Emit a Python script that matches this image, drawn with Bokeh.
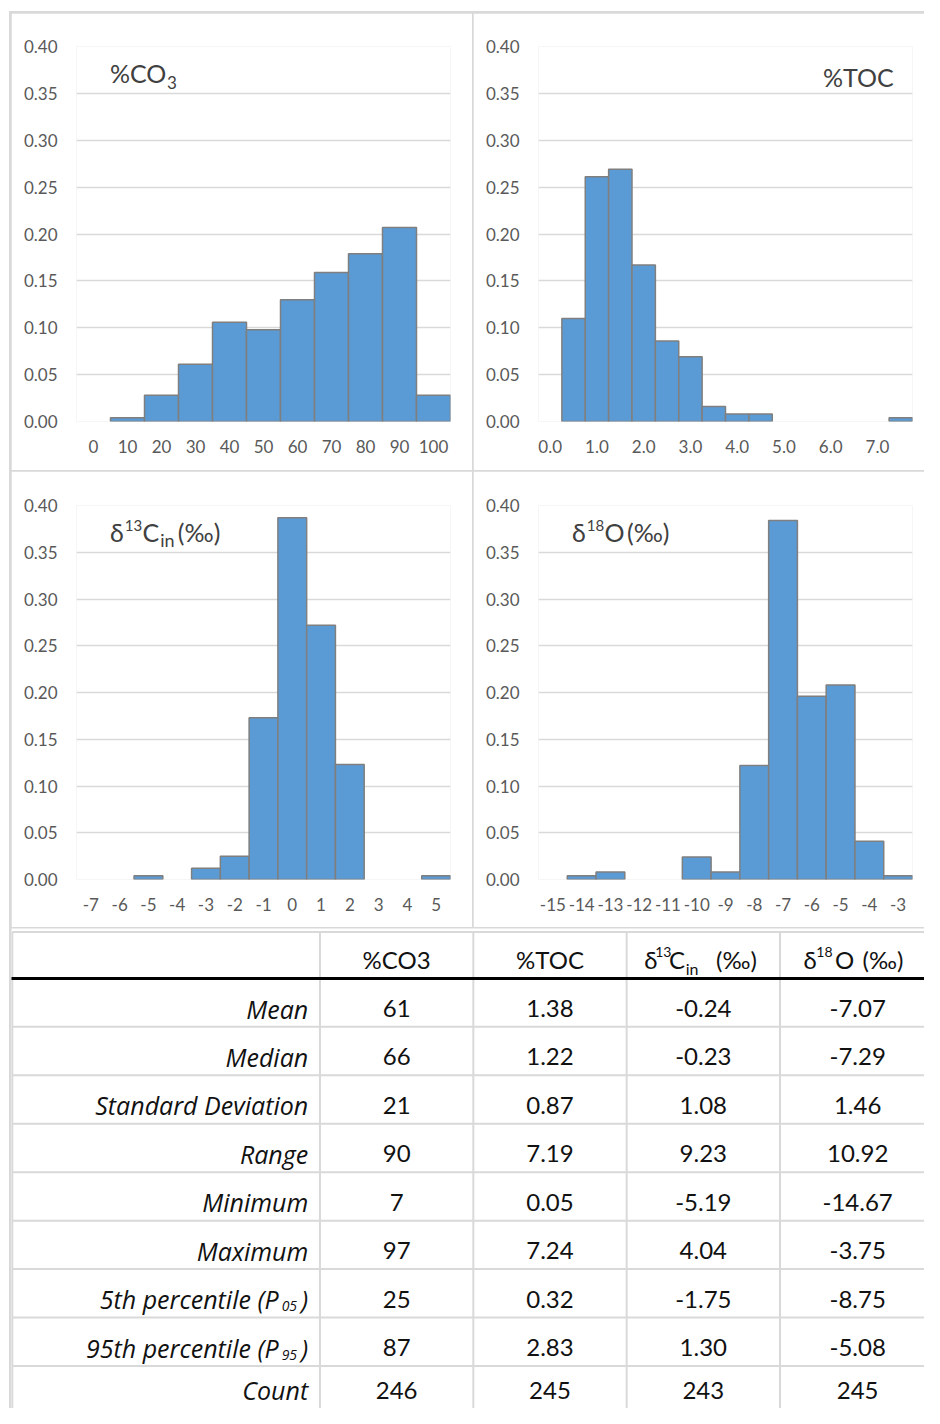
import numpy as np
from bokeh.plotting import figure
from bokeh.models import ColumnDataSource, Range1d, FixedTicker, NumeralTickFormatter
from bokeh.layouts import column, row
from bokeh.embed import file_html
from bokeh.resources import INLINE
from bokeh.core.properties import value

# ---------------- data ----------------
co3_bins = ["0", "10", "20", "30", "40", "50", "60", "70", "80", "90", "100"]
co3_freq = [0.0, 0.004, 0.028, 0.061, 0.106, 0.098, 0.130, 0.159, 0.179, 0.207, 0.028]

toc_bins = ["0.0", "0.5", "1.0", "1.5", "2.0", "2.5", "3.0", "3.5", "4.0", "4.5",
            "5.0", "5.5", "6.0", "6.5", "7.0", "7.5"]
toc_freq = [0.0, 0.110, 0.261, 0.269, 0.167, 0.086, 0.069, 0.016, 0.008, 0.008,
            0.0, 0.0, 0.0, 0.0, 0.0, 0.004]

c13_bins = ["-7", "-6", "-5", "-4", "-3", "-2", "-1", "0", "1", "2", "3", "4", "5"]
c13_freq = [0.0, 0.0, 0.004, 0.0, 0.012, 0.025, 0.173, 0.387, 0.272, 0.123, 0.0, 0.0, 0.004]

o18_bins = ["-15", "-14", "-13", "-12", "-11", "-10", "-9", "-8", "-7", "-6", "-5", "-4", "-3"]
o18_freq = [0.0, 0.004, 0.008, 0.0, 0.0, 0.024, 0.008, 0.122, 0.384, 0.196, 0.208, 0.041, 0.004]

y_ticks = [0.0, 0.05, 0.10, 0.15, 0.20, 0.25, 0.30, 0.35, 0.40]

row_labels = ["Mean", "Median", "Standard Deviation", "Range", "Minimum", "Maximum",
              "5th percentile (P", "95th percentile (P", "Count"]
row_subs = ["", "", "", "", "", "", "05", "95", ""]
co3_stats = ["61", "66", "21", "90", "7", "97", "25", "87", "246"]
toc_stats = ["1.38", "1.22", "0.87", "7.19", "0.05", "7.24", "0.32", "2.83", "245"]
c13_stats = ["-0.24", "-0.23", "1.08", "9.23", "-5.19", "4.04", "-1.75", "1.30", "243"]
o18_stats = ["-7.07", "-7.29", "1.46", "10.92", "-14.67", "-3.75", "-8.75", "-5.08", "245"]

BAR = "#5b9bd5"
BAR_LINE = "#7f7f7f"
GRID = "#d9d9d9"
TICK = "#595959"
LAB = "#404040"
FONT = "Lato"
IFONT = "Open Sans"

SX = 924 / 940
SY = 1408 / 1424


def hist(bins, freq, width, height, bl, br, bt, bb, tick_idx):
    n = len(bins)
    p = figure(width=width, height=height, x_range=Range1d(-0.5, n - 0.5),
               y_range=Range1d(0, 0.4), output_backend="svg", toolbar_location=None,
               min_border_left=bl, min_border_right=br, min_border_top=bt,
               min_border_bottom=bb)
    idx = [i for i, f in enumerate(freq) if f > 0]
    src = ColumnDataSource(dict(x=idx, top=[freq[i] for i in idx]))
    p.vbar(x="x", top="top", bottom=0, width=1, source=src, fill_color=BAR,
           line_color=BAR_LINE, line_width=1.5)
    p.xgrid.visible = False
    p.ygrid.grid_line_color = GRID
    p.ygrid.grid_line_width = 1.5
    p.yaxis.ticker = FixedTicker(ticks=y_ticks)
    p.ygrid.ticker = FixedTicker(ticks=y_ticks)
    p.yaxis.formatter = NumeralTickFormatter(format="0.00")
    p.xaxis.ticker = FixedTicker(ticks=tick_idx)
    p.xaxis.major_label_overrides = {i: bins[i] for i in tick_idx}
    for ax in (p.xaxis[0], p.yaxis[0]):
        ax.axis_line_color = None
        ax.major_tick_line_color = None
        ax.minor_tick_line_color = None
        ax.major_tick_out = 0
        ax.major_tick_in = 0
        ax.major_label_text_font = FONT
        ax.major_label_text_font_size = "17px"
        ax.major_label_text_color = TICK
    p.yaxis.major_label_standoff = 19
    p.xaxis.major_label_standoff = 18
    p.outline_line_color = None
    p.background_fill_color = "white"
    p.border_fill_color = "white"
    return p


def pieces(p, items, fl, fw, n, y0, y40):
    # items: (text, left x, centre y, font px) in reference-picture pixels
    for txt, lx, cy, fs in items:
        x = (lx - fl) / fw * n - 0.5
        y = (y0 - cy) / (y0 - y40) * 0.4
        p.text(x=[x], y=[y], text=[txt], text_font=value(FONT),
               text_font_size=value(f"{fs}px"), text_color=LAB,
               text_baseline="middle", text_align="left")


# top-left
p1 = hist(co3_bins, co3_freq, 461, 457, 65, 22, 33, 49, list(range(len(co3_bins))))
pieces(p1, [("%CO", 111, 74, 25), ("3", 169, 83, 17)], 77, 380, len(co3_bins), 426.3, 46.7)

# top-right
p2 = hist(toc_bins, toc_freq, 451, 457, 65, 12, 33, 49, list(range(0, len(toc_bins), 2)))
pieces(p2, [("%TOC", 836, 77.5, 25)], 547, 380, len(toc_bins), 426.3, 46.7)

# bottom-left
p3 = hist(c13_bins, c13_freq, 461, 456, 65, 22, 34, 48, list(range(len(c13_bins))))
pieces(p3, [("δ", 111, 537.5, 25), ("13", 126, 531, 15), ("C", 144, 537.5, 25),
            ("in", 162, 546, 18), ("(‰)", 180, 537.5, 25)],
       77, 380, len(c13_bins), 889.3, 510.7)

# bottom-right
p4 = hist(o18_bins, o18_freq, 451, 456, 65, 12, 34, 48, list(range(len(o18_bins))))
pieces(p4, [("δ", 581, 537.5, 25), ("18", 596, 531, 15), ("O", 614, 537.5, 25),
            ("(‰)", 637, 537.5, 25)],
       547, 380, len(o18_bins), 889.3, 510.7)

# ---------------- table (data coords = reference-picture pixels) ----------------
pt = figure(width=913, height=480, x_range=Range1d(11 / SX, 940),
            y_range=Range1d(1424, 928 / SY),
            output_backend="svg", toolbar_location=None, min_border=0)
pt.axis.visible = False
pt.grid.visible = False
pt.outline_line_color = None
pt.background_fill_color = "white"
pt.border_fill_color = "white"

col_lines = [12, 325, 481, 637, 793]
row_lines = [942] + [989 + 49 * k for k in range(1, 9)]
pt.segment(x0=[12] * len(row_lines), x1=[940] * len(row_lines), y0=row_lines, y1=row_lines,
           line_color=GRID, line_width=2)
pt.segment(x0=col_lines, x1=col_lines, y0=[942] * len(col_lines), y1=[1424] * len(col_lines),
           line_color=GRID, line_width=2)
pt.segment(x0=[10], x1=[940], y0=[989], y1=[989], line_color="black", line_width=3)

TXT = "#111111"
TF = value(FONT)
cy = [min(1019.5 + 49 * k, 1405.5) for k in range(len(row_labels))]
centers = [403, 559, 715, 872]

# row labels (italic, right aligned)
main_src = ColumnDataSource(dict(
    x=[313 if s == "" else 283 for s in row_subs], y=cy, t=row_labels))
pt.text(x="x", y="y", text="t", source=main_src, text_font=value(IFONT),
        text_font_size=value("25px"), text_font_style="italic", text_color=TXT,
        text_align="right", text_baseline="middle")
sub_idx = [i for i, s in enumerate(row_subs) if s]
pt.text(x=[286] * len(sub_idx), y=[cy[i] + 7 for i in sub_idx],
        text=[row_subs[i] for i in sub_idx],
        text_font=value(IFONT), text_font_size=value("14px"), text_font_style="italic",
        text_color=TXT, text_align="left", text_baseline="middle")
pt.text(x=[313] * len(sub_idx), y=[cy[i] for i in sub_idx], text=[")"] * len(sub_idx),
        text_font=value(IFONT), text_font_size=value("25px"), text_font_style="italic",
        text_color=TXT, text_align="right", text_baseline="middle")

# values
for cx, vals in zip(centers, [co3_stats, toc_stats, c13_stats, o18_stats]):
    pt.text(x=[cx] * len(vals), y=cy, text=vals, text_font=TF, text_font_size=value("24px"),
            text_color=TXT, text_align="center", text_baseline="middle")

# header
hy = 969.5
pt.text(x=[403, 559], y=[hy, hy], text=["%CO3", "%TOC"], text_font=TF,
        text_font_size=value("24px"), text_color=TXT, text_align="center",
        text_baseline="middle")
hdr = [("δ", 655, hy, 24), ("13", 666, hy - 7, 14), ("C", 680, hy, 24),
       ("in", 697, hy + 10, 16), ("(‰)", 728, hy, 24),
       ("δ", 817, hy, 24), ("18", 830, hy - 7, 14), ("O", 849, hy, 24),
       ("(‰)", 877, hy, 24)]
for txt, lx, yy, fs in hdr:
    pt.text(x=[lx], y=[yy], text=[txt], text_font=TF, text_font_size=value(f"{fs}px"),
            text_color=TXT, text_align="left", text_baseline="middle")

top = row(p1, p2, spacing=1)
bot = row(p3, p4, spacing=1)
inner = column(top, bot, pt, spacing=1,
               styles={"background-color": GRID, "padding": "2px 0px 0px 2px"})
root = column(inner, styles={"background-color": "white", "padding": "11px 0px 0px 9px"})

open("out.html", "w").write(file_html(root, INLINE))
